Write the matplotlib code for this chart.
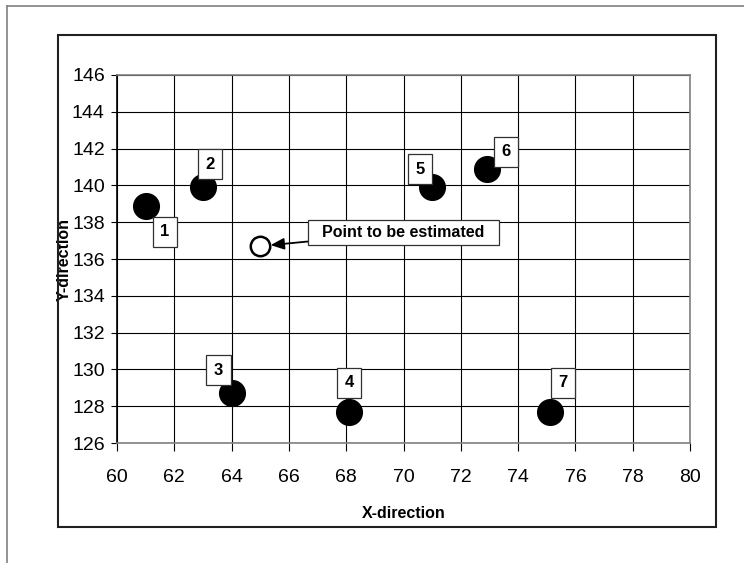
import matplotlib
matplotlib.use("Agg")
import matplotlib.pyplot as plt
from matplotlib.lines import Line2D
from matplotlib.patches import Rectangle

plt.rcParams['font.family'] = ['Liberation Sans', 'DejaVu Sans']

# Known sample locations and their labels
x_known = [61, 63, 64, 68.1, 71, 72.9, 75.1]
y_known = [138.9, 139.9, 128.7, 127.7, 139.9, 140.9, 127.7]
point_ids = ["1", "2", "3", "4", "5", "6", "7"]
# label box offsets from each point (points)
label_offsets = [(13.7, -18.7), (5, 16.6), (-9.4, 16.6), (0, 20.9),
                 (-8.6, 13), (13.7, 12.2), (9.4, 20.9)]

# Location to be estimated
x_target = [65]
y_target = [136.7]
target_label = "Point to be estimated"

x_ticks = list(range(60, 81, 2))
y_ticks = list(range(126, 147, 2))

fig = plt.figure(figsize=(7.44, 5.63), dpi=100)
fig.patch.set_facecolor("white")

# outer frame (left and top edges only visible)
fig.add_artist(Line2D([0.0094, 0.0094], [0, 0.9893], transform=fig.transFigure,
                      color="#808080", lw=1.2))
fig.add_artist(Line2D([0.0094, 1.0], [0.9893, 0.9893], transform=fig.transFigure,
                      color="#808080", lw=1.2))
# chart area box
fig.add_artist(Rectangle((0.078, 0.0639), 0.8844, 0.8739, transform=fig.transFigure,
                         fill=False, edgecolor="#202020", lw=1.5))

ax = fig.add_axes([0.1573, 0.2131, 0.7702, 0.6537])
ax.set_xlim(60, 80)
ax.set_ylim(126, 146)
ax.set_xticks(x_ticks)
ax.set_yticks(y_ticks)
ax.grid(True, color="black", lw=0.8)
ax.set_axisbelow(True)
for side, sp in ax.spines.items():
    sp.set_color("#808080")
    sp.set_linewidth(1.2)
ax.spines["left"].set_color("black")

ax.tick_params(axis="x", direction="out", length=6, width=0.8, pad=12.5,
               labelsize=14, colors="black")
ax.tick_params(axis="y", direction="out", length=4.5, width=0.8, pad=4.3,
               labelsize=14, colors="black")

ax.set_xlabel("X-direction", fontsize=11.5, fontweight="bold")
ax.set_ylabel("Y-direction", fontsize=11.5, fontweight="bold")
ax.xaxis.set_label_coords(0.5, -0.172)
ax.yaxis.set_label_coords(-0.0785, 0.5)

ax.plot(x_known, y_known, "o", color="black", markersize=18.5, zorder=3,
        clip_on=False)
ax.plot(x_target, y_target, "o", markerfacecolor="white", markeredgecolor="black",
        markeredgewidth=1.8, markersize=14, zorder=3)

for xk, yk, pid, off in zip(x_known, y_known, point_ids, label_offsets):
    ax.annotate(pid, xy=(xk, yk), xytext=off, textcoords="offset points",
                ha="center", va="center", fontsize=12, fontweight="bold",
                zorder=5,
                bbox=dict(boxstyle="square,pad=0.45", facecolor="white",
                          edgecolor="#303030", lw=0.9))

ax.annotate("  " + target_label + "  ", xy=(x_target[0], y_target[0]),
            xytext=(103, 10), textcoords="offset points",
            ha="center", va="center", fontsize=11.5, fontweight="bold", zorder=5,
            bbox=dict(boxstyle="square,pad=0.32", facecolor="white",
                      edgecolor="#303030", lw=0.9),
            arrowprops=dict(arrowstyle="-|>,head_length=0.7,head_width=0.3",
                            color="black", lw=1.3, shrinkA=0, shrinkB=7.5))

fig.savefig("out.png", dpi=100, facecolor="white")
